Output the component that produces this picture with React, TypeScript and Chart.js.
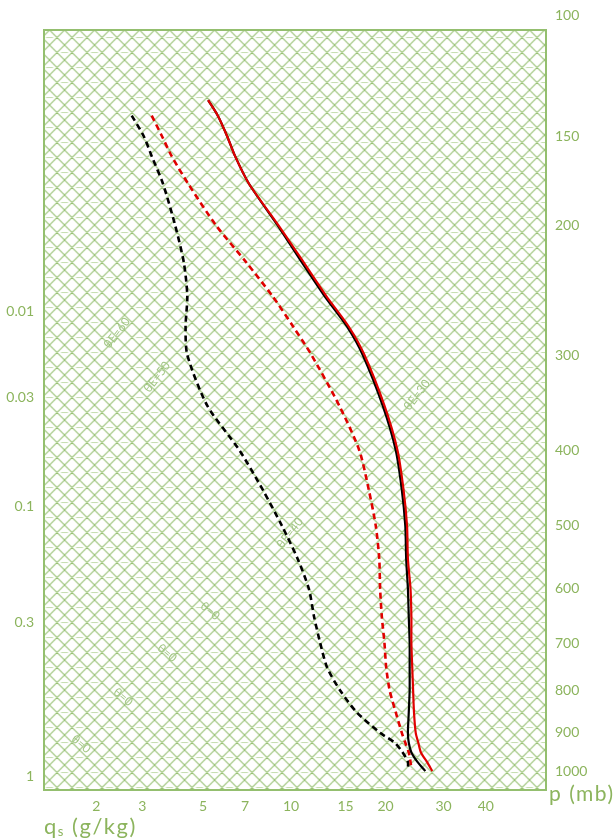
import React, { useEffect, useRef } from 'react';
import { Chart, registerables, LinearScale } from 'chart.js';

Chart.register(...registerables);

const tempLevels = [133, 140, 150, 160, 175, 200, 225, 250, 275, 300, 350, 400, 450, 500, 550, 600, 650, 700, 750, 800, 850, 900, 925, 950, 975, 1000];
const tempRed = [4.3, 5.4, 6.5, 7.4, 9.0, 12.4, 15.3, 17.9, 20.5, 22.3, 24.6, 26.1, 26.8, 27.2, 27.3, 27.6, 27.7, 27.7, 27.8, 27.9, 28.0, 28.2, 28.5, 28.8, 29.5, 30.1];
const tempBlack = [4.3, 5.4, 6.5, 7.4, 9.0, 12.3, 15.1, 17.7, 20.3, 22.1, 24.4, 25.9, 26.6, 27.0, 27.1, 27.3, 27.4, 27.5, 27.5, 27.5, 27.4, 27.3, 27.4, 27.7, 28.4, 29.3];

// dew point curves (dashed)
const dewLevels = [140, 150, 160, 175, 200, 225, 250, 275, 300, 350, 400, 450, 500, 550, 600, 650, 700, 750, 800, 850, 900, 925, 950, 975, 995];
const dewRed = [-2.2, -1.0, 0.1, 2.0, 5.2, 8.7, 11.7, 14.1, 16.2, 19.4, 21.7, 22.8, 23.6, 24.0, 24.1, 24.3, 24.6, 24.8, 25.2, 25.9, 26.6, 27.0, 27.4, 27.6, 27.7];
const dewBlack = [-4.5, -3.1, -2.2, -0.9, 0.5, 1.5, 1.9, 1.7, 1.9, 4.2, 7.9, 10.6, 12.8, 14.6, 15.9, 16.5, 17.2, 18.0, 19.5, 21.4, 24.1, 25.8, 26.7, 27.3, 27.3];

// axis labels
const pressureTicks = [100, 150, 200, 300, 400, 500, 600, 700, 800, 900, 1000];
const qsTicks = [2, 3, 5, 7, 10, 15, 20, 30, 40];
const edgeQsLabels = ['0.01', '0.03', '0.1', '0.3', '1'];
const edgeQsPressures = [262, 341, 472, 660, 1014];

// faint isopleth labels inside the diagram
const isoplethNotes = [
  { text: 'θ=0', x: 210, y: 611, angle: 40 },
  { text: 'θ=0', x: 167, y: 653, angle: 40 },
  { text: 'θ=0', x: 123, y: 697, angle: 40 },
  { text: 'θ=0', x: 81, y: 744, angle: 40 },
  { text: 'θE=60', x: 117, y: 333, angle: -52 },
  { text: 'θE=50', x: 157, y: 377, angle: -52 },
  { text: 'θE=40', x: 290, y: 533, angle: -52 },
  { text: 'θE=30', x: 417, y: 395, angle: -52 },
];

const GREEN = '#8cb45d';
const GRID = '#94bf6f';
const FONT = "Lato, 'DejaVu Sans', sans-serif";

// tephigram-like pressure spacing (between log p and p^k)
const CURVE = 0.1009;
const toU = (p: number) => {
  const d = Math.log10(p / 1000);
  return d + CURVE * d * d;
};
const fromU = (u: number) => {
  const d = (-1 + Math.sqrt(Math.max(0, 1 + 4 * CURVE * u))) / (2 * CURVE);
  return 1000 * Math.pow(10, d);
};

class PressureScale extends LinearScale {
  static id = 'pressure';
  static defaults = LinearScale.defaults;
  getPixelForValue(value: number) {
    const u0 = toU(this.min);
    const u1 = toU(this.max);
    return this.getPixelForDecimal((toU(value) - u0) / (u1 - u0));
  }
  getValueForPixel(pixel: number) {
    const u0 = toU(this.min);
    const u1 = toU(this.max);
    return fromU(u0 + this.getDecimalForPixel(pixel) * (u1 - u0));
  }
}
Chart.register(PressureScale);

// temperature at which saturation mixing ratio q (g/kg) is reached at 1000 mb
const tempForQs = (q: number) => {
  const es = (q * 1000) / (622 + q);
  const l = Math.log(es / 6.112);
  return (243.5 * l) / (17.67 - l);
};

function makeGridPattern(ctx: CanvasRenderingContext2D) {
  const tile = document.createElement('canvas');
  tile.width = 30;
  tile.height = 30;
  const t = tile.getContext('2d')!;
  t.strokeStyle = '#c6deb1';
  t.lineWidth = 1.2;
  t.beginPath();
  for (const [cx, cy] of [[15, 7.5], [0, 22.5], [30, 22.5]]) {
    t.moveTo(cx - 3.5, cy);
    t.lineTo(cx + 3.5, cy);
  }
  t.stroke();
  t.strokeStyle = GRID;
  t.lineWidth = 1.05;
  t.beginPath();
  for (let c = -45; c <= 75; c += 15) {
    t.moveTo(-5, c - 5);
    t.lineTo(35, c + 35);
    t.moveTo(-5, c + 5);
    t.lineTo(35, c - 35);
  }
  t.stroke();
  const pat = ctx.createPattern(tile, 'repeat')!;
  pat.setTransform(new DOMMatrix([1, 0, 0, 1, 4.5, 0]));
  return pat;
}

const diagramBackdrop = {
  id: 'diagramBackdrop',
  beforeDatasetsDraw(chart: Chart) {
    const { ctx, chartArea: a } = chart;
    const w = a.right - a.left;
    const h = a.bottom - a.top;
    ctx.save();
    ctx.fillStyle = makeGridPattern(ctx);
    ctx.fillRect(a.left, a.top, w, h);

    ctx.fillStyle = '#a2c685';
    ctx.font = `12px ${FONT}`;
    ctx.textAlign = 'center';
    ctx.textBaseline = 'middle';
    isoplethNotes.forEach((n) => {
      ctx.save();
      ctx.translate(n.x, n.y);
      ctx.rotate((n.angle * Math.PI) / 180);
      ctx.fillText(n.text, 0, 0);
      ctx.restore();
    });

    ctx.strokeStyle = GRID;
    ctx.lineWidth = 2;
    ctx.strokeRect(a.left, a.top, w, h);
    ctx.restore();
  },
  afterDraw(chart: Chart) {
    const { ctx } = chart;
    ctx.save();
    ctx.fillStyle = GREEN;
    ctx.textBaseline = 'alphabetic';
    ctx.textAlign = 'left';
    (ctx as any).letterSpacing = '1.5px';
    ctx.font = `21px ${FONT}`;
    ctx.fillText('p (mb)', 549, 801);

    let x = 44;
    ctx.font = `22px ${FONT}`;
    ctx.fillText('q', x, 834);
    x += ctx.measureText('q').width;
    ctx.font = `13px ${FONT}`;
    ctx.fillText('s', x, 836);
    x += ctx.measureText('s').width;
    ctx.font = `22px ${FONT}`;
    ctx.fillText(' (g/kg)', x, 834);
    ctx.restore();
  },
};

const tickFont = { family: FONT, size: 14 };
const noGrid = { display: false, drawTicks: false };

export default function App() {
  const canvasRef = useRef<HTMLCanvasElement>(null);

  useEffect(() => {
    document.body.style.margin = '0';
    if (!canvasRef.current) return;

    const profile = (levels: number[], values: number[]) =>
      levels.map((p, i) => ({ x: values[i], y: p }));

    const chart = new Chart(canvasRef.current, {
      type: 'scatter',
      data: {
        datasets: [
          {
            label: 'T (red)',
            data: profile(tempLevels, tempRed),
            borderColor: '#e00000',
            borderWidth: 2.2,
            order: 0,
          },
          {
            label: 'T (black)',
            data: profile(tempLevels, tempBlack),
            borderColor: '#000000',
            borderWidth: 2.2,
            order: 1,
          },
          {
            label: 'Td (red)',
            data: profile(dewLevels, dewRed),
            borderColor: '#e00000',
            borderWidth: 2.6,
            borderDash: [6, 4],
            order: 2,
          },
          {
            label: 'Td (black)',
            data: profile(dewLevels, dewBlack),
            borderColor: '#000000',
            borderWidth: 2.6,
            borderDash: [6, 4],
            order: 3,
          },
        ],
      },
      options: {
        animation: false,
        responsive: true,
        maintainAspectRatio: false,
        events: [],
        showLine: true,
        elements: {
          point: { radius: 0 },
          line: { tension: 0.25, borderCapStyle: 'butt' },
        },
        layout: { padding: { top: 30, left: 0, right: 0, bottom: 0 } },
        plugins: {
          legend: { display: false },
          tooltip: { enabled: false },
        },
        scales: {
          x: {
            type: 'linear',
            position: 'bottom',
            min: -14.6,
            max: 43.2,
            grid: noGrid,
            border: { display: false },
            afterBuildTicks: (s: any) => {
              s.ticks = qsTicks.map((q) => ({ value: tempForQs(q) }));
            },
            afterFit: (s: any) => {
              s.height = 50;
            },
            ticks: {
              autoSkip: false,
              maxRotation: 0,
              padding: 8,
              color: GREEN,
              font: tickFont,
              callback: (_v: any, i: number) => String(qsTicks[i]),
            },
          },
          y: {
            type: 'pressure' as any,
            position: 'right',
            min: 105,
            max: 1053,
            reverse: true,
            bounds: 'data',
            grid: noGrid,
            border: { display: false },
            afterBuildTicks: (s: any) => {
              s.ticks = pressureTicks.map((p) => ({ value: p }));
            },
            afterFit: (s: any) => {
              s.width = 69;
            },
            ticks: {
              autoSkip: false,
              padding: 9,
              color: GREEN,
              font: tickFont,
              callback: (_v: any, i: number) => String(pressureTicks[i]),
            },
          },
          yEdge: {
            type: 'pressure' as any,
            position: 'left',
            min: 105,
            max: 1053,
            reverse: true,
            bounds: 'data',
            grid: noGrid,
            border: { display: false },
            afterBuildTicks: (s: any) => {
              s.ticks = edgeQsPressures.map((p) => ({ value: p }));
            },
            afterFit: (s: any) => {
              s.width = 44;
            },
            ticks: {
              autoSkip: false,
              padding: 10,
              color: GREEN,
              font: tickFont,
              callback: (_v: any, i: number) => edgeQsLabels[i],
            },
          },
        },
      } as any,
      plugins: [diagramBackdrop],
    });

    return () => chart.destroy();
  }, []);

  return (
    <div style={{ position: 'relative', width: 615, height: 840 }}>
      <canvas ref={canvasRef} />
    </div>
  );
}
